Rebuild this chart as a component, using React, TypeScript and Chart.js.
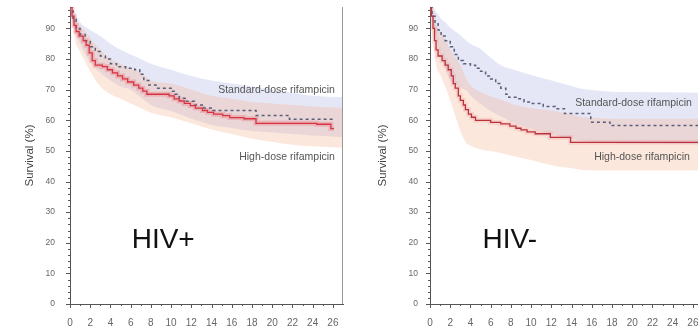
import React, { useEffect, useRef } from 'react';
import { Chart, registerables } from 'chart.js';

Chart.register(...registerables);

// ---- axis ticks ----
const xTickValues = [0, 2, 4, 6, 8, 10, 12, 14, 16, 18, 20, 22, 24, 26];
const yTickValues = [0, 10, 20, 30, 40, 50, 60, 70, 80, 90];
const xMinorTicks = [0, 1, 2, 3, 4, 5, 6, 7, 8, 9, 10, 11, 12, 13, 14, 15, 16, 17, 18, 19, 20, 21, 22, 23, 24, 25, 26];
const yMinorTicks = [0, 2, 4, 6, 8, 10, 12, 14, 16, 18, 20, 22, 24, 26, 28, 30, 32, 34, 36, 38, 40, 42, 44, 46, 48, 50, 52, 54, 56, 58, 60, 62, 64, 66, 68, 70, 72, 74, 76, 78, 80, 82, 84, 86, 88, 90, 92, 94, 96];

// ---- HIV+ panel ----
const hivPosHighT = [0, 0.2, 0.4, 0.6, 0.9, 1.3, 1.6, 1.9, 2.2, 2.5, 3.2, 3.7, 4.2, 4.7, 5.2, 5.7, 6.3, 6.8, 7.2, 7.6, 9.8, 10.3, 10.8, 11.3, 11.9, 12.4, 13.1, 13.6, 14.2, 15.1, 15.8, 17.2, 18.4, 24.4, 25.8, 26.1];
const hivPosHighS = [97, 94, 91, 89, 87.5, 86, 84.5, 82, 79.5, 78, 77.5, 76.5, 75.5, 74.5, 73.5, 72.5, 71.5, 70.5, 69.5, 68.5, 68, 67, 66.3, 65.5, 64.8, 64, 63.2, 62.6, 62, 61.5, 60.9, 60.5, 59, 58.7, 57.3, 57.3];
const hivPosStdT = [0, 0.3, 0.6, 1, 1.5, 2, 2.5, 3, 3.5, 4, 4.6, 5.5, 6.4, 6.9, 7.3, 7.8, 8.5, 10, 10.4, 10.8, 11.5, 12.3, 13.2, 14.1, 18.4, 21.7, 26.1];
const hivPosStdS = [97, 93, 90, 88, 86, 84, 82.5, 81, 80, 78.5, 77.5, 77, 76.5, 75, 73, 71.5, 70.5, 69.5, 68.5, 67.2, 66.2, 65, 64, 63.2, 61.6, 60.3, 60.3];
const hivPosBandT = [0, 0.5, 1, 2, 3, 4, 5, 6, 7, 8, 10, 12, 14, 16, 18, 20, 22, 24, 27];
const hivPosStdUpper = [97, 95, 92, 89.5, 87.5, 85, 83, 81.5, 80, 78.5, 76.5, 74.5, 73, 72, 71, 70, 69, 68, 67.5];
const hivPosStdLower = [97, 89, 85, 79, 75.5, 73, 71, 70, 67.5, 65, 63, 60.5, 58.5, 57.5, 56.5, 56, 55.5, 55, 54.5];
const hivPosHighUpper = [97, 93, 91, 87, 83, 80, 78.5, 77, 75.5, 73, 72, 70, 68, 67, 66, 65.5, 65, 64.5, 64];
const hivPosHighLower = [97, 86, 82.5, 76, 71, 68.5, 67, 65.5, 64, 62.5, 61, 59, 57, 55.5, 54, 53, 52, 51.5, 51];

// ---- HIV- panel ----
const hivNegHighT = [0, 0.15, 0.3, 0.45, 0.6, 0.8, 1.2, 1.5, 1.8, 2.1, 2.3, 2.5, 2.8, 3, 3.3, 3.5, 3.8, 4.1, 4.5, 6, 7, 7.9, 8.5, 9, 9.6, 10.4, 11.9, 13.9, 26.6];
const hivNegHighS = [97, 94, 90, 86, 83, 81, 79.5, 78, 76.5, 74.5, 72, 70.5, 68, 66.5, 65, 63.5, 62, 61, 60, 59.3, 58.8, 58.1, 57.4, 56.9, 56.2, 55.6, 54.4, 52.8, 52.8];
const hivNegStdT = [0, 0.2, 0.5, 0.8, 1.1, 1.5, 2, 2.4, 2.8, 3.3, 4, 4.5, 5, 5.5, 6, 6.5, 7, 7.5, 7.8, 8.7, 9.3, 10, 11.2, 12.4, 13.3, 15.9, 17.8, 26.6];
const hivNegStdS = [97, 94, 92, 89.5, 87.5, 86, 84, 81.5, 79.5, 78.5, 78, 77, 76, 74.5, 73.5, 72, 70.5, 68.5, 67.5, 67, 66, 65.5, 64.5, 63.8, 62.2, 59.4, 58.3, 58.3];
const hivNegBandT = [0, 0.3, 0.6, 1, 1.5, 2, 2.5, 3, 3.6, 4, 5, 6, 7, 8, 8.6, 10, 12, 14, 15, 16, 18, 20, 27];
const hivNegStdUpper = [97, 96.5, 95.5, 93.6, 92, 90.3, 89, 87.8, 86, 85, 83.3, 80.5, 78, 76.8, 76.2, 74.8, 73, 71.2, 70.3, 69.9, 69.3, 69.2, 69];
const hivNegStdLower = [97, 92, 87, 82, 77, 73, 71.8, 70.8, 69.7, 68.2, 65.3, 63, 61.3, 59.6, 58.8, 57.3, 55.5, 54, 53.4, 53, 52.6, 52.4, 52.3];
const hivNegHighUpper = [97, 93.5, 91, 89, 86.5, 83, 80.5, 78, 73.5, 71.5, 69.2, 67.8, 66.8, 65.5, 64.8, 64, 63.2, 61.8, 61, 60.8, 60.5, 60.5, 60.5];
const hivNegHighLower = [97, 86, 78, 75, 71, 66.5, 61.5, 56.5, 52.5, 51.8, 50.5, 50, 49.3, 48.5, 48, 47, 45.3, 44.3, 43.8, 43.7, 43.6, 43.6, 43.6];

const toXY = (t: number[], s: number[]) => t.map((x, i) => ({ x, y: s[i] }));

const FONT = "'Liberation Sans', Arial, sans-serif";

const axisDecor = {
  id: 'axisDecor',
  afterDraw(chart: any, _args: any, opts: any) {
    const { ctx, chartArea, scales } = chart;
    const x = scales.x;
    const y = scales.y;
    ctx.save();
    ctx.strokeStyle = '#555';
    ctx.lineWidth = 1;
    ctx.beginPath();
    for (const v of xMinorTicks) {
      const px = Math.round(x.getPixelForValue(v)) + 0.5;
      const len = v % 2 === 0 ? 4 : 2;
      ctx.moveTo(px, chartArea.bottom);
      ctx.lineTo(px, chartArea.bottom + len);
    }
    for (const v of yMinorTicks) {
      const py = Math.round(y.getPixelForValue(v)) + 0.5;
      const len = v % 10 === 0 ? 4 : 2;
      ctx.moveTo(chartArea.left, py);
      ctx.lineTo(chartArea.left - len, py);
    }
    ctx.stroke();
    if (opts.rightBorder) {
      ctx.strokeStyle = '#999';
      ctx.beginPath();
      const px = Math.round(chartArea.right) - 0.5;
      ctx.moveTo(px, chartArea.top);
      ctx.lineTo(px, chartArea.bottom);
      ctx.stroke();
    }
    ctx.restore();
  },
};

const annot = {
  id: 'annot',
  afterDatasetsDraw(chart: any, _args: any, opts: any) {
    const { ctx, scales } = chart;
    ctx.save();
    ctx.textBaseline = 'middle';
    for (const it of opts.items || []) {
      ctx.font = `${it.size}px ${FONT}`;
      ctx.fillStyle = it.color;
      ctx.textAlign = it.align;
      ctx.fillText(it.text, scales.x.getPixelForValue(it.x), scales.y.getPixelForValue(it.y));
    }
    ctx.restore();
  },
};

function makeConfig(p: any) {
  const band = (data: any, color: string, fill: any, order: number) => ({
    data,
    borderWidth: 0,
    borderColor: 'rgba(0,0,0,0)',
    backgroundColor: color,
    fill,
    pointRadius: 0,
    cubicInterpolationMode: 'monotone',
    order,
  });
  const stdColor = 'rgba(160,170,225,0.28)';
  const highColor = 'rgba(245,175,140,0.30)';
  return {
    type: 'line',
    data: {
      datasets: [
        { data: toXY(p.highT, p.highS), borderColor: p.redColor, borderWidth: 1.3, stepped: true, pointRadius: 0, fill: false, order: 0 },
        { data: toXY(p.stdT, p.stdS), borderColor: '#5c5f78', borderWidth: 1.5, borderDash: [3, 3], stepped: true, pointRadius: 0, fill: false, order: 1 },
        { data: toXY(p.highT, p.highS), borderColor: p.haloColor, borderWidth: 5, stepped: true, pointRadius: 0, fill: false, order: 2 },
        band(toXY(p.bandT, p.stdUpper), stdColor, '+1', 4),
        band(toXY(p.bandT, p.stdLower), stdColor, false, 4),
        band(toXY(p.bandT, p.highUpper), highColor, '+1', 3),
        band(toXY(p.bandT, p.highLower), highColor, false, 3),
      ],
    },
    options: {
      responsive: false,
      maintainAspectRatio: false,
      animation: false,
      layout: { autoPadding: false, padding: { top: 7, right: 1, left: 0, bottom: 0 } },
      plugins: {
        legend: { display: false },
        tooltip: { enabled: false },
        axisDecor: { rightBorder: true },
        annot: { items: p.annotations },
      },
      scales: {
        x: {
          type: 'linear',
          min: 0,
          max: 27,
          afterBuildTicks: (s: any) => { s.ticks = xTickValues.map((v) => ({ value: v })); },
          afterFit: (s: any) => {
            s.height = 23;
            s.paddingLeft = 0; s.paddingRight = 0; s.paddingTop = 0; s.paddingBottom = 0;
          },
          grid: { display: false, drawTicks: false },
          border: { display: true, color: '#555', width: 1 },
          ticks: { font: { family: FONT, size: 10 }, color: '#666', padding: 13, maxRotation: 0, autoSkip: false },
        },
        y: {
          type: 'linear',
          min: 0,
          max: 97,
          afterBuildTicks: (s: any) => { s.ticks = yTickValues.map((v) => ({ value: v })); },
          afterFit: (s: any) => {
            s.width = p.yWidth;
            s.paddingLeft = 0; s.paddingRight = 0; s.paddingTop = 0; s.paddingBottom = 0;
          },
          grid: { display: false, drawTicks: false },
          border: { display: true, color: '#555', width: 1 },
          ticks: { font: { family: FONT, size: 8.5 }, color: '#666', padding: p.yPad, autoSkip: false },
          title: {
            display: true,
            text: 'Survival (%)',
            font: { family: FONT, size: 11.5 },
            color: '#444',
            padding: { top: p.titleOffset, bottom: 0 },
          },
        },
      },
    },
    plugins: [axisDecor, annot],
  };
}

const leftPanel = {
  highT: hivPosHighT, highS: hivPosHighS, stdT: hivPosStdT, stdS: hivPosStdS,
  bandT: hivPosBandT, stdUpper: hivPosStdUpper, stdLower: hivPosStdLower,
  highUpper: hivPosHighUpper, highLower: hivPosHighLower,
  yWidth: 70, yPad: 15, titleOffset: 23,
  redColor: '#d7343f', haloColor: 'rgba(230,95,110,0.28)',
  annotations: [
    { text: 'Standard-dose rifampicin', x: 26.2, y: 70, size: 10.5, color: '#555', align: 'right' },
    { text: 'High-dose rifampicin', x: 26.2, y: 47.9, size: 10.5, color: '#555', align: 'right' },
    { text: 'HIV+', x: 6.1, y: 20.8, size: 28, color: '#111', align: 'left' },
  ],
};

const rightPanel = {
  highT: hivNegHighT, highS: hivNegHighS, stdT: hivNegStdT, stdS: hivNegStdS,
  bandT: hivNegBandT, stdUpper: hivNegStdUpper, stdLower: hivNegStdLower,
  highUpper: hivNegHighUpper, highLower: hivNegHighLower,
  yWidth: 80, yPad: 12, titleOffset: 26,
  redColor: '#b8323c', haloColor: 'rgba(230,95,110,0.15)',
  annotations: [
    { text: 'Standard-dose rifampicin', x: 25.9, y: 65.5, size: 10.5, color: '#555', align: 'right' },
    { text: 'High-dose rifampicin', x: 25.7, y: 47.9, size: 10.5, color: '#555', align: 'right' },
    { text: 'HIV-', x: 5.2, y: 20.8, size: 28, color: '#111', align: 'left' },
  ],
};

function Panel({ panel, left, width }: { panel: any; left: number; width: number }) {
  const ref = useRef<HTMLCanvasElement>(null);
  useEffect(() => {
    const chart = new Chart(ref.current as HTMLCanvasElement, makeConfig(panel) as any);
    return () => chart.destroy();
  }, [panel]);
  return (
    <canvas
      ref={ref}
      width={width}
      height={327}
      style={{ position: 'absolute', left, top: 0, width, height: 327 }}
    />
  );
}

export default function App() {
  return (
    <div style={{ position: 'fixed', left: 0, top: 0, width: 698, height: 327, overflow: 'hidden', background: '#fff' }}>
      <Panel panel={leftPanel} left={0} width={344} />
      <Panel panel={rightPanel} left={350} width={354} />
    </div>
  );
}
